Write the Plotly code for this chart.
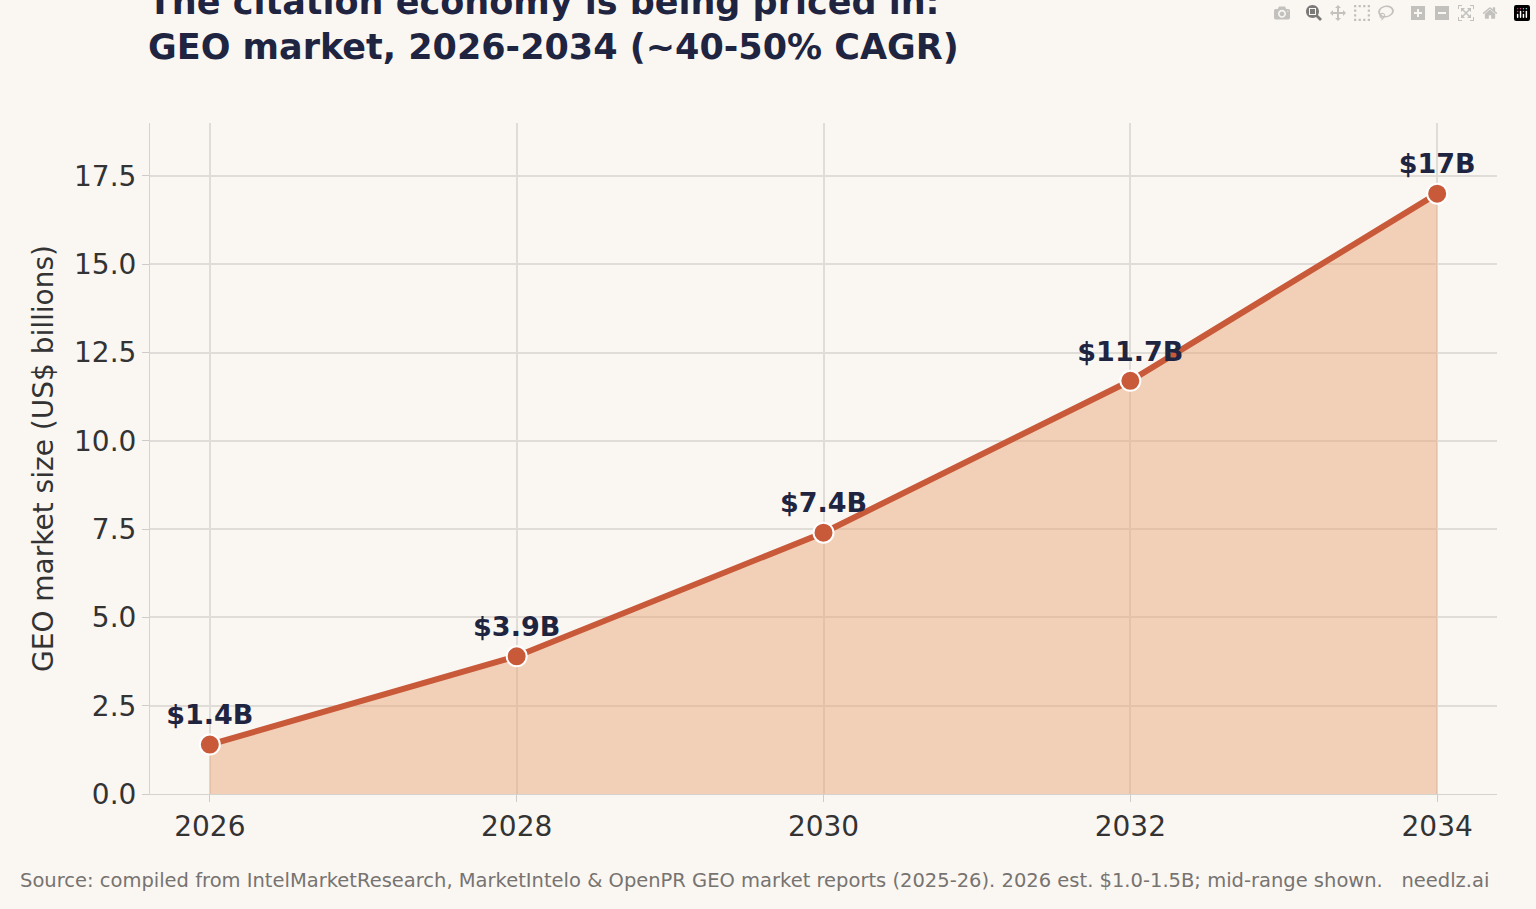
import plotly.graph_objects as go

years = [2026, 2028, 2030, 2032, 2034]
values = [1.4, 3.9, 7.4, 11.7, 17.0]
labels = ["$1.4B", "$3.9B", "$7.4B", "$11.7B", "$17B"]

font = "DejaVu Sans"
navy = "#1f2541"

fig = go.Figure()
fig.add_trace(go.Scatter(
    x=years, y=values, mode="lines+markers+text",
    fill="tozeroy", fillcolor="rgba(232,160,112,0.45)",
    line=dict(color="#c85a3a", width=6),
    marker=dict(size=20, color="#c85a3a", line=dict(color="white", width=2)),
    text=labels, textposition="top center",
    textfont=dict(family=font, size=27, color=navy, weight="bold"),
    cliponaxis=False, hoverinfo="skip",
))

fig.update_layout(
    width=1536, height=909,
    paper_bgcolor="#faf7f3", plot_bgcolor="#faf7f3",
    margin=dict(l=150, r=39, t=123, b=115),
    showlegend=False,
    font=dict(family=font, color="#333333"),
    title=dict(
        text="The citation economy is being priced in:<br>GEO market, 2026-2034 (~40-50% CAGR)",
        x=148 / 1536, xanchor="left", y=0.985, yanchor="top",
        font=dict(family=font, size=35, color=navy, weight="bold"),
    ),
)
fig.update_xaxes(
    range=[2025.61, 2034.39], tickvals=years, ticks="outside", ticklen=7,
    tickcolor="#cccccc", tickfont=dict(size=28, color="#333333"),
    showgrid=True, gridcolor="#e0dcd8", gridwidth=1.5,
    showline=True, linecolor="#d6d2ce", zeroline=False,
)
fig.update_yaxes(
    range=[0, 19], tickvals=[0, 2.5, 5, 7.5, 10, 12.5, 15, 17.5],
    tickformat=".1f", ticks="outside", ticklen=7, tickcolor="#cccccc",
    tickfont=dict(size=28, color="#333333"),
    showgrid=True, gridcolor="#e0dcd8", gridwidth=1.5,
    showline=True, linecolor="#d6d2ce", zeroline=False,
    title=dict(text="GEO market size (US$ billions)", font=dict(size=28, color="#333333"), standoff=12),
)
fig.add_annotation(
    text="Source: compiled from IntelMarketResearch, MarketIntelo &amp; OpenPR GEO market reports (2025-26). 2026 est. $1.0-1.5B; mid-range shown.   needlz.ai",
    xref="paper", yref="paper", x=-132 / 1347, y=-86 / 671, xanchor="left", yanchor="middle",
    showarrow=False, font=dict(family=font, size=19.5, color="#777370"),
)

fig.write_html("out.html", post_script="document.body.style.margin='0';")
